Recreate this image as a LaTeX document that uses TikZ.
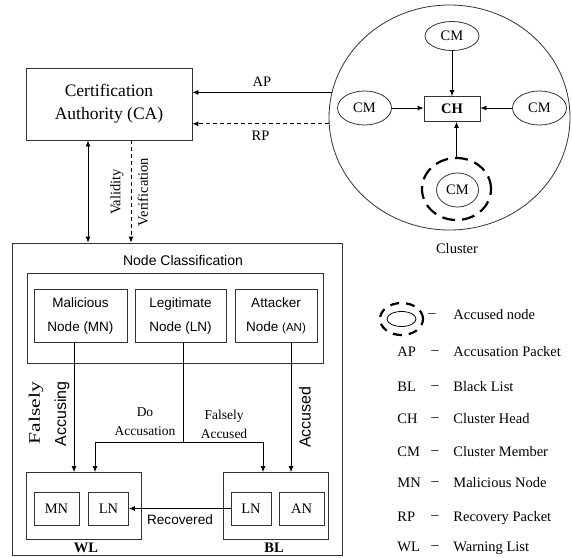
\documentclass[tikz,border=0pt]{standalone}
\usepackage{fontspec}
\setmainfont{Liberation Serif}
\newfontfamily\arialfont{Liberation Sans}
\usetikzlibrary{arrows.meta,shapes.geometric}

\tikzset{
  box/.style={draw=black!80,rectangle,inner sep=0pt},
  member/.style={draw=black!80,ellipse,inner sep=0pt,minimum width=54pt,minimum height=34pt,font=\fontsize{14.5}{17}\selectfont},
  classbox/.style={box,align=center,font=\arialfont\fontsize{13.5}{24}\selectfont},
  serif/.style={font=\fontsize{14.5}{17}\selectfont},
  sans/.style={font=\arialfont\fontsize{14}{17}\selectfont},
  legtext/.style={serif,anchor=west,inner sep=0pt,text height=10pt,text depth=3pt},
  accused/.style={draw,ellipse,inner sep=0pt,line width=2.2pt},
}

\begin{document}
\begin{tikzpicture}[x=1pt,y=-1pt,>={Latex[length=6pt,width=5pt]},line width=0.8pt]
\useasboundingbox (0,0) rectangle (572,557);

% certification authority
\node[box,minimum width=166pt,minimum height=72pt,align=center,font=\fontsize{17.5}{23}\selectfont] (ca) at (109,104) {Certification\\Authority (CA)};

% cluster with head and members
\node[draw=black!80,ellipse,minimum width=241pt,minimum height=225pt,inner sep=0pt] (cluster) at (449.5,117.5) {};
\node[box,minimum width=56pt,minimum height=25pt,font=\bfseries\fontsize{14.5}{17}\selectfont] (ch) at (452,109) {CH};
\node[member,minimum height=29pt] (cmtop) at (452,36) {CM};
\node[member] (cmleft) at (364.5,108) {CM};
\node[member] (cmright) at (539.5,108) {CM};
\node[member,minimum width=42pt] (cmbot) at (457.5,190) {CM};
\node[accused,dash pattern=on 13pt off 7pt,minimum width=69pt,minimum height=62pt] (ring) at (456.5,189) {};
\node[serif] (clusterlbl) at (457,249) {Cluster};

\draw[->] (cmtop) -- (ch);
\draw[->] (cmleft.east) -- (cmleft.east -| ch.west);
\draw[->] (cmright.west) -- (cmright.west -| ch.east);
\draw[->] (ring.north) -- (ring.north |- ch.south);

% packets to the CA
\draw[->] (cluster.168) -- (cluster.168 -| ca.east) node[serif,midway,above=2pt] (aplbl) {AP};
\draw[->,dash pattern=on 4pt off 3pt] (cluster.183) -- (cluster.183 -| ca.east) node[serif,midway,below=3pt] (rplbl) {RP};

% node classification
\node[box,minimum width=330pt,minimum height=312pt] (nc) at (177,399) {};
\node[sans] (nctitle) at (183,260) {Node Classification};
\node[box,minimum width=296pt,minimum height=90pt] (types) at (175,318) {};
\node[classbox,minimum width=93pt,minimum height=53pt] (mal) at (80.5,315.5) {Malicious\\Node (MN)};
\node[classbox,minimum width=91pt,minimum height=53pt] (leg) at (180.5,315.5) {Legitimate\\Node (LN)};
\node[classbox,minimum width=82pt,minimum height=53pt] (att) at (276,315.5) {Attacker\\Node {\fontsize{11.5}{24}\selectfont(AN)}};

% validity check
\draw[<->] ([xshift=-21pt]ca.south) -- ([xshift=-21pt]ca.south |- nc.north);
\draw[->,dash pattern=on 4pt off 3pt] ([xshift=22pt]ca.south) -- ([xshift=22pt]ca.south |- nc.north);
\node[serif,rotate=90] (validity) at (117,192) {Validity};
\node[serif,rotate=90] (verif) at (143,192) {Verification};

% warning list and black list
\node[box,minimum width=115pt,minimum height=67pt] (wl) at (83.5,506) {};
\node[box,serif,minimum width=45pt,minimum height=33pt] (wlmn) at (56.5,508.5) {MN};
\node[box,serif,minimum width=40pt,minimum height=33pt] (wlln) at (108.5,508.5) {LN};
\node[box,minimum width=105pt,minimum height=67pt] (bl) at (275.5,506) {};
\node[box,serif,minimum width=40pt,minimum height=33pt] (blln) at (251,508.5) {LN};
\node[box,serif,minimum width=45pt,minimum height=33pt] (blan) at (301.5,508.5) {AN};
\node[serif,font=\bfseries\fontsize{14.5}{17}\selectfont] (wllbl) at (86,548) {WL};
\node[serif,font=\bfseries\fontsize{14.5}{17}\selectfont] (bllbl) at (274,548) {BL};

% classification flows
\coordinate (split) at (183,442);
\draw[->] ([xshift=-6.5pt]mal.south) -- ([xshift=-6.5pt]mal.south |- wl.north);
\draw[->] ([xshift=15pt]att.south) -- ([xshift=15pt]att.south |- bl.north);
\draw ([xshift=2.5pt]leg.south) -- (split);
\draw[->] (split) -| ([xshift=11.5pt]wl.north);
\draw[->] (split) -| ([xshift=-12.5pt]bl.north);
\draw[->] (blln) -- (wlln);

\node[rotate=90,font=\fontsize{16}{19}\selectfont] (falsely) at (36,413) {\scalebox{1.35}[1]{Falsely}};
\node[rotate=90,font=\arialfont\fontsize{16}{19}\selectfont] (accusing) at (62,414) {Accusing};
\node[rotate=90,font=\arialfont\fontsize{16}{19}\selectfont] (accusedlbl) at (305,417) {Accused};
\node[align=center,font=\fontsize{13.5}{19}\selectfont] (doacc) at (145,422) {Do\\Accusation};
\node[align=center,font=\fontsize{13.5}{19}\selectfont] (falseacc) at (224,424) {Falsely\\Accused};
\node[font=\arialfont\fontsize{13.6}{17}\selectfont] (recovered) at (180,520) {Recovered};

% legend
\node[accused,dash pattern=on 9pt off 7pt,minimum width=43pt,minimum height=32pt] (lring) at (401.5,319) {};
\node[draw,ellipse,inner sep=0pt,minimum width=29pt,minimum height=15pt] (lnode) at (401.5,319) {};
\node[serif] (dash-acc) at (432,316) {–};
\node[legtext] (desc-acc) at (453,316) {Accused node};
\foreach \y/\ab/\desc in {353/AP/Accusation Packet, 388/BL/Black List, 420/CH/Cluster Head, 453/CM/Cluster Member, 484/MN/Malicious Node, 518/RP/Recovery Packet, 548/WL/Warning List}{
  \node[legtext] (ab-\ab) at (397,\y) {\ab};
  \node[serif] (dash-\ab) at (435,\y) {–};
  \node[legtext] (desc-\ab) at (453,\y) {\desc};
}

\end{tikzpicture}
\end{document}
